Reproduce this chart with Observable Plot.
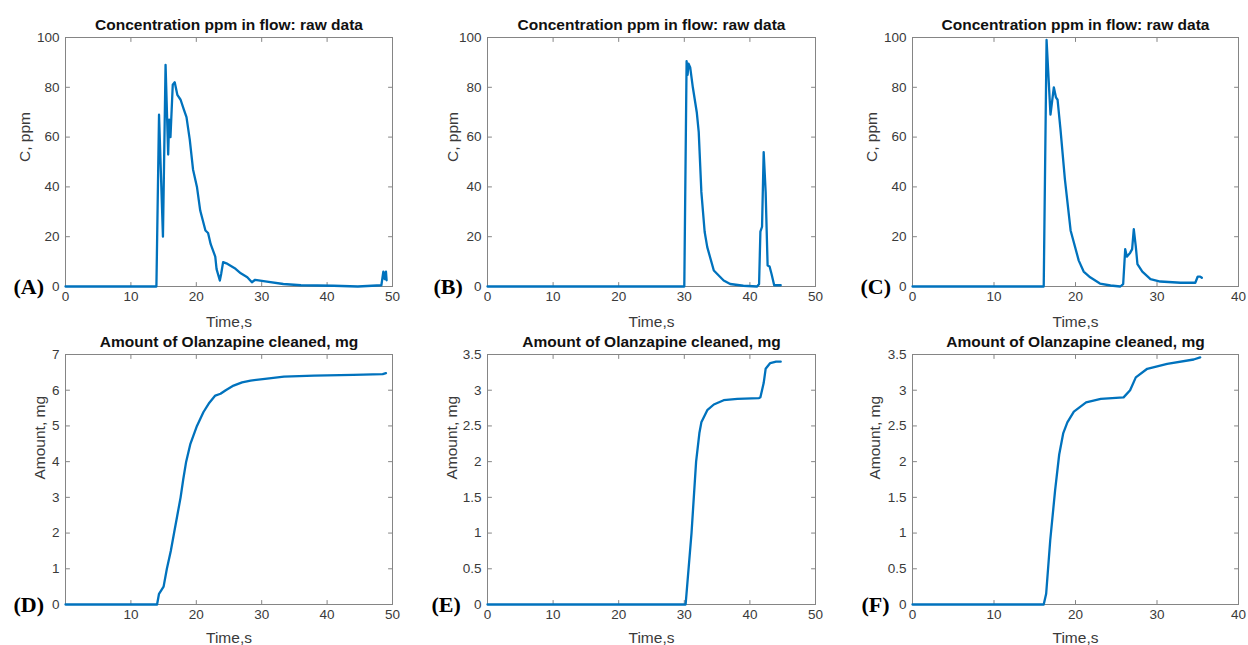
<!DOCTYPE html>
<html>
<head>
<meta charset="utf-8">
<script src="https://cdn.jsdelivr.net/npm/d3@7"></script>
<script src="https://cdn.jsdelivr.net/npm/@observablehq/plot@0.6"></script>
<style>
  html, body { margin: 0; padding: 0; background: #fff; }
  #wrap { position: relative; width: 1248px; height: 645px; overflow: hidden; background: #fff; }
  #wrap > svg { position: absolute; }
</style>
</head>
<body>
<div id="wrap"></div>
<script>
// ---------- data ----------
const timeA = [0, 13.9, 14.3, 14.9, 15.3, 15.7, 15.85, 16.05, 16.4, 16.7, 17.1, 17.6, 18.1, 18.5, 19.0, 19.5, 20.1, 20.6, 21.4, 21.8, 22.2, 22.9, 23.1, 23.6, 23.8, 24.1, 24.6, 26.0, 26.8, 27.8, 28.5, 29.0, 30.8, 33.3, 36.0, 41.0, 44.7, 48.3, 48.6, 48.8, 49.0, 49.1];
const concA = [0, 0, 69, 20, 89, 53, 67, 60, 81, 82, 77, 75, 71, 68, 59, 47, 40, 30.5, 22.5, 21.5, 17, 12, 7, 2.4, 5, 9.8, 9.3, 7.1, 5.3, 3.7, 1.7, 2.7, 2, 1, 0.5, 0.3, 0, 0.5, 6, 3, 6, 2.5];

const timeB = [0, 30.0, 30.35, 30.5, 30.65, 30.9, 31.3, 31.9, 32.2, 32.6, 33.1, 33.5, 34.5, 36.0, 37.0, 39.0, 41.1, 41.4, 41.6, 41.85, 42.1, 42.4, 42.7, 43.0, 43.3, 43.7, 44.7];
const concB = [0, 0, 90.5, 85, 89.5, 88, 80, 70, 62, 38, 22, 15.8, 6.4, 2.4, 1, 0.3, 0, 1, 22, 24, 54, 38, 8.4, 8, 5, 0.5, 0.5];

const timeC = [0, 16.1, 16.45, 16.93, 17.34, 17.6, 17.8, 18.16, 18.7, 19.4, 20.4, 21.0, 21.8, 23.0, 24.3, 25.5, 25.85, 26.1, 26.3, 26.7, 26.95, 27.15, 27.4, 27.6, 28.2, 29.2, 30.4, 32.9, 34.7, 35.0, 35.3, 35.5];
const concC = [0, 0, 99, 69, 80, 76, 75, 63, 43, 22.5, 10.4, 6, 3.7, 1.2, 0.4, 0, 1, 15, 12, 13.5, 15, 23, 16, 9, 6, 3, 2, 1.5, 1.5, 4, 4, 3.5];

const timeD = [0, 14.0, 14.3, 15.0, 15.5, 16.1, 16.6, 17.1, 17.6, 18.0, 18.45, 19.1, 20.1, 21.1, 22.0, 22.9, 23.7, 24.5, 25.7, 27.0, 28.3, 30.5, 33.4, 38.0, 44.0, 48.5, 49.0];
const amountD = [0, 0, 0.3, 0.5, 1, 1.5, 2, 2.5, 3, 3.5, 4, 4.5, 5, 5.39, 5.65, 5.85, 5.9, 6.0, 6.13, 6.22, 6.27, 6.32, 6.38, 6.41, 6.43, 6.45, 6.48];

const timeE = [0, 30.2, 31.1, 31.8, 32.3, 32.6, 33.5, 34.5, 36.0, 38.1, 41.4, 41.6, 42.1, 42.4, 43.1, 44.0, 44.7];
const amountE = [0, 0, 1, 2, 2.4, 2.55, 2.72, 2.8, 2.86, 2.88, 2.89, 2.9, 3.1, 3.3, 3.38, 3.4, 3.4];

const timeF = [0, 16.1, 16.4, 16.9, 17.5, 18.0, 18.5, 19.0, 19.8, 21.3, 23.1, 25.9, 26.7, 27.4, 28.8, 31.25, 34.5, 35.3];
const amountF = [0, 0, 0.15, 0.9, 1.6, 2.1, 2.4, 2.55, 2.7, 2.83, 2.88, 2.9, 3.0, 3.18, 3.3, 3.37, 3.43, 3.46];

const xTicks50 = [0, 10, 20, 30, 40, 50];
const xTicks50NoZero = [10, 20, 30, 40, 50];
const xTicks40 = [0, 10, 20, 30, 40];
const yTicksConc = [0, 20, 40, 60, 80, 100];
const yTicksAmount7 = [0, 1, 2, 3, 4, 5, 6, 7];
const yTicksAmount35 = [0, 0.5, 1, 1.5, 2, 2.5, 3, 3.5];

const letters = ["(A)", "(B)", "(C)", "(D)", "(E)", "(F)"];
const titleTop = "Concentration ppm in flow: raw data";
const titleBottom = "Amount of Olanzapine cleaned, mg";
const xLabel = "Time,s";
const yLabelTop = "C, ppm";
const yLabelBottom = "Amount, mg";

// ---------- drawing ----------
const lineColor = "#0072BD";
const frameColor = "#858585";
const textColor = "#3a3a3a";
const sans = "'Liberation Sans', Arial, Helvetica, sans-serif";

const tickShape = { draw(ctx, l) { ctx.moveTo(0, 0); ctx.lineTo(0, -l); } };

function innerTicks(xt, yt) {
  const common = { length: 4, anchor: "start", shape: tickShape, stroke: frameColor, strokeWidth: 1 };
  return [
    Plot.vectorX(xt, { x: d => d, frameAnchor: "bottom", rotate: 0, ...common }),
    Plot.vectorX(xt, { x: d => d, frameAnchor: "top", rotate: 180, ...common }),
    Plot.vectorY(yt, { y: d => d, frameAnchor: "left", rotate: 90, ...common }),
    Plot.vectorY(yt, { y: d => d, frameAnchor: "right", rotate: -90, ...common })
  ];
}

function panel(p) {
  const data = p.t.map((t, i) => ({ t, v: p.v[i] }));
  const svg = Plot.plot({
    width: p.width, height: p.height,
    marginLeft: p.ml, marginRight: p.mr, marginTop: p.mt, marginBottom: p.mb,
    x: { domain: p.xd },
    y: { domain: p.yd },
    style: { fontFamily: sans, fontSize: "13.5px", color: textColor, background: "transparent", overflow: "visible" },
    marks: [
      Plot.frame({ stroke: frameColor, strokeWidth: 1 }),
      ...innerTicks(p.xt, p.yt),
      Plot.axisX({ ticks: p.xLabels, tickSize: 0, tickPadding: 5, tickFormat: d => String(d), label: null, fontSize: 13.5 }),
      Plot.axisY({ ticks: p.yt, tickSize: 0, tickPadding: 6, tickFormat: d => String(d), label: null, fontSize: 13.5 }),
      Plot.line(data, { x: "t", y: "v", stroke: lineColor, strokeWidth: 2.3, strokeLinejoin: "round" }),
      Plot.text([p.title], { text: d => d, frameAnchor: "top", dy: -12, lineAnchor: "middle", fontWeight: "bold", fontSize: 15.5, fill: "#111" }),
      Plot.text([xLabel], { text: d => d, frameAnchor: "bottom", dy: p.xlDy, lineAnchor: "middle", fontSize: 15.5, fill: textColor }),
      Plot.text([p.ylabel], { text: d => d, frameAnchor: "left", dx: p.ylDx, rotate: -90, lineAnchor: "middle", fontSize: 15.5, fill: textColor }),
      Plot.text([p.letter], { text: d => d, frameAnchor: "bottom-left", dx: p.letDx, textAnchor: "start", lineAnchor: "middle", fontFamily: "'Liberation Serif', 'Times New Roman', serif", fontWeight: "bold", fontSize: 22, fill: "#000" })
    ]
  });
  svg.style.left = p.left + "px";
  svg.style.top = p.top + "px";
  document.getElementById("wrap").appendChild(svg);
}

const cols = [
  { left: 0, width: 410, ml: 65, mr: 18 },
  { left: 410, width: 420, ml: 77, mr: 15 },
  { left: 830, width: 418, ml: 82, mr: 10 }
];
const topRow = { top: 0, height: 332, mt: 37, mb: 46, xlDy: 36 };
const botRow = { top: 332, height: 313, mt: 22, mb: 41, xlDy: 34 };

panel({ ...cols[0], ...topRow, t: timeA, v: concA, xd: [0, 50], yd: [0, 100], xt: xTicks50, xLabels: xTicks50, yt: yTicksConc, title: titleTop, ylabel: yLabelTop, ylDx: -40, letter: letters[0], letDx: -52 });
panel({ ...cols[1], ...topRow, t: timeB, v: concB, xd: [0, 50], yd: [0, 100], xt: xTicks50, xLabels: xTicks50, yt: yTicksConc, title: titleTop, ylabel: yLabelTop, ylDx: -34, letter: letters[1], letDx: -54 });
panel({ ...cols[2], ...topRow, t: timeC, v: concC, xd: [0, 40], yd: [0, 100], xt: xTicks40, xLabels: xTicks40, yt: yTicksConc, title: titleTop, ylabel: yLabelTop, ylDx: -40, letter: letters[2], letDx: -52 });
panel({ ...cols[0], ...botRow, t: timeD, v: amountD, xd: [0, 50], yd: [0, 7], xt: xTicks50NoZero, xLabels: xTicks50NoZero, yt: yTicksAmount7, title: titleBottom, ylabel: yLabelBottom, ylDx: -25, letter: letters[3], letDx: -52 });
panel({ ...cols[1], ...botRow, t: timeE, v: amountE, xd: [0, 50], yd: [0, 3.5], xt: xTicks50, xLabels: xTicks50, yt: yTicksAmount35, title: titleBottom, ylabel: yLabelBottom, ylDx: -35, letter: letters[4], letDx: -56 });
panel({ ...cols[2], ...botRow, t: timeF, v: amountF, xd: [0, 40], yd: [0, 3.5], xt: xTicks40, xLabels: xTicks40, yt: yTicksAmount35, title: titleBottom, ylabel: yLabelBottom, ylDx: -37, letter: letters[5], letDx: -51 });
</script>
</body>
</html>
